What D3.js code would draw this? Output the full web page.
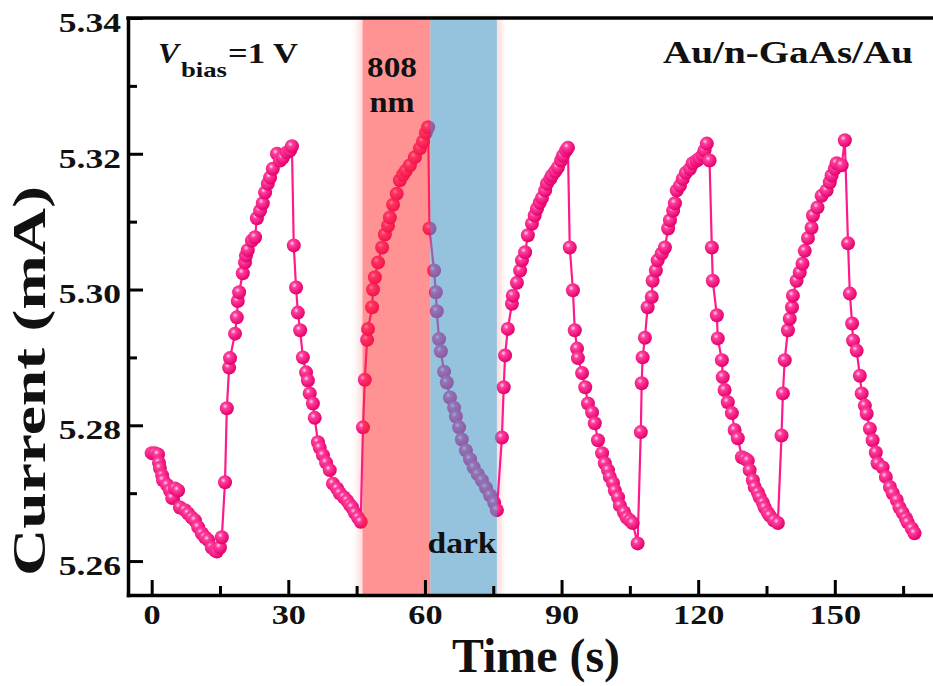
<!DOCTYPE html>
<html>
<head>
<meta charset="utf-8">
<script src="https://cdnjs.cloudflare.com/ajax/libs/d3/7.8.5/d3.min.js"></script>
<style>
body{margin:0;background:#fff;}
#canvas{width:933px;height:686px;}
text{font-family:"Times New Roman","Liberation Serif",Tinos,serif;font-weight:bold;fill:#111;}
</style>
</head>
<body>
<div id="canvas"></div>
<script>
// time (s), current (mA), one array per half cycle
var decay0 = [[0.0,5.2759],[0.7,5.2759],[1.4,5.2757],[1.6,5.2745],[1.8,5.2737],[2.3,5.2726],[2.5,5.2719],[3.4,5.2712],[4.0,5.2704],[4.5,5.2693],[5.1,5.2707],[5.8,5.2704],[6.2,5.2679],[7.3,5.2675],[8.0,5.2670],[8.8,5.2664],[9.5,5.2660],[10.2,5.2650],[11.0,5.2641],[11.7,5.2635],[12.4,5.2631],[13.2,5.2620],[13.9,5.2616],[14.3,5.2614],[15.0,5.2620],[15.4,5.2635]];
var rise1 = [[16.1,5.2716],[16.5,5.2825],[17.0,5.2885],[17.2,5.2899],[18.3,5.2935],[18.7,5.2959],[18.9,5.2983],[19.2,5.2996],[20.0,5.3024],[20.5,5.3040],[20.7,5.3050],[21.1,5.3058],[22.0,5.3072],[22.7,5.3077],[23.1,5.3105],[23.8,5.3116],[24.4,5.3127],[24.9,5.3143],[25.5,5.3156],[26.0,5.3165],[26.6,5.3178],[27.5,5.3200],[28.2,5.3190],[28.8,5.3194],[29.7,5.3202],[30.4,5.3205],[30.8,5.3211]];
var decay1 = [[31.2,5.3065],[31.7,5.3003],[32.1,5.2966],[32.6,5.2940],[33.2,5.2900],[33.9,5.2878],[34.3,5.2866],[34.7,5.2847],[35.4,5.2832],[35.8,5.2811],[36.5,5.2775],[36.9,5.2767],[37.6,5.2756],[38.3,5.2745],[39.1,5.2734],[39.8,5.2714],[40.7,5.2707],[41.3,5.2700],[42.2,5.2694],[42.9,5.2689],[43.5,5.2683],[44.0,5.2679],[44.6,5.2671],[45.3,5.2664],[45.9,5.2658]];
var rise2 = [[46.4,5.2797],[46.8,5.2867],[47.3,5.2926],[47.5,5.2942],[48.4,5.2974],[48.6,5.3000],[49.0,5.3018],[49.7,5.3040],[50.6,5.3062],[51.2,5.3081],[51.9,5.3094],[52.3,5.3106],[53.0,5.3125],[53.8,5.3141],[54.5,5.3161],[55.2,5.3169],[55.8,5.3175],[56.7,5.3183],[57.8,5.3195],[58.9,5.3208],[59.6,5.3218],[60.2,5.3231],[60.7,5.3239]];
var decay2 = [[61.0,5.3090],[62.0,5.3028],[62.4,5.2996],[62.6,5.2968],[63.1,5.2927],[63.5,5.2909],[64.2,5.2879],[64.8,5.2863],[65.5,5.2841],[66.4,5.2826],[66.8,5.2813],[67.5,5.2797],[68.1,5.2779],[69.0,5.2763],[69.9,5.2750],[70.7,5.2738],[71.6,5.2728],[72.5,5.2719],[73.4,5.2708],[74.3,5.2697],[75.2,5.2686],[75.8,5.2675]];
var rise3 = [[76.9,5.2782],[77.3,5.2856],[77.6,5.2903],[78.2,5.2942],[79.1,5.2979],[79.3,5.2991],[80.2,5.3010],[80.9,5.3028],[81.3,5.3043],[82.0,5.3055],[82.6,5.3080],[83.5,5.3097],[84.1,5.3109],[84.6,5.3119],[85.2,5.3128],[85.7,5.3135],[86.4,5.3146],[86.8,5.3156],[87.5,5.3163],[87.9,5.3168],[88.6,5.3174],[89.2,5.3180],[89.9,5.3190],[90.3,5.3197],[91.0,5.3205],[91.4,5.3209]];
var decay3 = [[91.8,5.3062],[92.5,5.2999],[92.9,5.2940],[93.4,5.2913],[93.6,5.2899],[94.5,5.2877],[95.2,5.2856],[95.8,5.2832],[96.7,5.2819],[97.3,5.2803],[98.0,5.2778],[98.9,5.2759],[99.5,5.2744],[100.2,5.2734],[100.6,5.2724],[101.3,5.2715],[101.7,5.2704],[102.4,5.2694],[102.8,5.2682],[103.7,5.2672],[104.3,5.2664],[105.0,5.2660],[105.6,5.2656],[106.7,5.2626]];
var rise4 = [[107.4,5.2790],[107.6,5.2862],[107.8,5.2900],[108.3,5.2929],[108.9,5.2974],[109.8,5.2989],[110.0,5.3013],[110.7,5.3028],[111.1,5.3043],[112.0,5.3053],[112.7,5.3062],[113.4,5.3090],[113.8,5.3102],[114.5,5.3116],[114.9,5.3127],[115.3,5.3146],[116.0,5.3153],[116.6,5.3163],[117.3,5.3172],[118.2,5.3178],[118.8,5.3186],[119.7,5.3190],[120.3,5.3193],[121.0,5.3198],[121.4,5.3205],[121.9,5.3215],[122.5,5.3190]];
var decay4 = [[123.0,5.3062],[123.2,5.3013],[124.1,5.2962],[124.3,5.2928],[125.2,5.2896],[125.4,5.2871],[125.8,5.2852],[126.5,5.2834],[127.4,5.2818],[128.0,5.2793],[128.7,5.2781],[129.6,5.2753],[130.2,5.2751],[130.9,5.2748],[131.3,5.2734],[132.0,5.2719],[132.4,5.2709],[133.1,5.2701],[133.5,5.2694],[134.2,5.2686],[134.6,5.2679],[135.3,5.2671],[135.7,5.2667],[136.6,5.2660],[137.5,5.2656]];
var rise5 = [[138.3,5.2785],[138.6,5.2847],[139.0,5.2896],[139.7,5.2940],[140.1,5.2957],[140.6,5.2974],[140.8,5.2991],[141.6,5.3013],[142.3,5.3025],[142.9,5.3038],[143.4,5.3057],[144.1,5.3076],[144.9,5.3091],[145.2,5.3109],[146.2,5.3121],[147.1,5.3138],[148.2,5.3146],[148.9,5.3158],[149.3,5.3168],[150.0,5.3178],[150.4,5.3186],[151.5,5.3183],[152.2,5.3220]];
var decay5 = [[152.9,5.3068],[153.3,5.2994],[153.8,5.2950],[154.0,5.2925],[154.8,5.2910],[155.5,5.2873],[155.9,5.2847],[156.6,5.2829],[157.0,5.2817],[157.7,5.2795],[158.3,5.2778],[159.0,5.2760],[159.4,5.2744],[160.5,5.2738],[161.2,5.2724],[162.1,5.2709],[162.7,5.2700],[163.6,5.2690],[164.2,5.2679],[164.9,5.2671],[165.6,5.2663],[166.0,5.2657],[166.9,5.2648],[167.5,5.2641]];

var lightBand = [46.3, 61.2];   // 808 nm on
var darkBand = [61.2, 75.8];    // dark
var xTicks = [0, 30, 60, 90, 120, 150];
var xMinor = [15, 45, 75, 105, 135, 165];
var yTicks = [5.26, 5.28, 5.30, 5.32, 5.34];
var yMinor = [5.27, 5.29, 5.31, 5.33];

var series = [].concat(decay0, rise1, decay1, rise2, decay2, rise3, decay3, rise4, decay4, rise5, decay5);

var W = 933, H = 686;
var x = d3.scaleLinear().domain([-5.2, 172]).range([128, 935]);
var y = d3.scaleLinear().domain([5.255, 5.34]).range([595, 18]);

var svg = d3.select('#canvas').append('svg')
    .attr('width', W)
    .attr('height', H);

var defs = svg.append('defs');
var grad = defs.append('radialGradient').attr('id', 'bead')
    .attr('cx', '38%').attr('cy', '35%').attr('r', '65%');
grad.append('stop').attr('offset', '0%').attr('stop-color', '#ffd6ea');
grad.append('stop').attr('offset', '28%').attr('stop-color', '#ff3d9c');
grad.append('stop').attr('offset', '100%').attr('stop-color', '#e4006c');
defs.append('filter').attr('id', 'soft').attr('x', '-20%').attr('width', '140%')
    .append('feGaussianBlur').attr('stdDeviation', 3);

var bandTop = y(5.34), bandH = y(5.255) - y(5.34);

//pink glow round the shaded bands, cleared inside so the band colours stay clean
svg.append('rect')
    .attr('x', x(lightBand[0]) - 4)
    .attr('y', bandTop)
    .attr('width', x(darkBand[1]) - x(lightBand[0]) + 8)
    .attr('height', bandH)
    .style('fill', '#ffc4c4')
    .style('opacity', 0.7)
    .attr('filter', 'url(#soft)');
svg.append('rect')
    .attr('x', x(lightBand[0]))
    .attr('y', bandTop)
    .attr('width', x(darkBand[1]) - x(lightBand[0]))
    .attr('height', bandH)
    .style('fill', '#fff');

//line + beads
var line = d3.line().x(function(d){ return x(d[0]); }).y(function(d){ return y(d[1]); });
svg.append('path').attr('d', line(series))
    .style('fill', 'none')
    .style('stroke', '#ff1a8c')
    .style('stroke-width', '2.2px');

svg.selectAll('circle.pt').data(series).enter().append('circle')
    .attr('class', 'pt')
    .attr('cx', function(d){ return x(d[0]); })
    .attr('cy', function(d){ return y(d[1]); })
    .attr('r', 7)
    .style('fill', 'url(#bead)');

//bands drawn on top, semi transparent
svg.append('rect')
    .attr('x', x(lightBand[0]))
    .attr('y', bandTop)
    .attr('width', x(lightBand[1]) - x(lightBand[0]))
    .attr('height', bandH)
    .style('fill', 'rgb(255,40,40)')
    .style('fill-opacity', 0.5);
svg.append('rect')
    .attr('x', x(darkBand[0]))
    .attr('y', bandTop)
    .attr('width', x(darkBand[1]) - x(darkBand[0]))
    .attr('height', bandH)
    .style('fill', 'rgb(74,153,199)')
    .style('fill-opacity', 0.59);

//axes
function styleAxis(g, size){
    g.selectAll('.domain').style('stroke', '#000').style('stroke-width', '3.5px').style('stroke-linecap', 'square');
    g.selectAll('.tick line').style('stroke', '#000').style('stroke-width', '3px');
    g.attr('font-size', size);
    g.selectAll('text').each(function(){
        var w = this.getComputedTextLength();
        d3.select(this).attr('textLength', w * 1.27).attr('lengthAdjust', 'spacingAndGlyphs');
    });
}

var gy = svg.append('g').attr('transform', 'translate(' + x(-5.2) + ',0)')
    .call(d3.axisLeft(y).tickValues(yTicks).tickSize(-15).tickSizeOuter(0).tickPadding(7).tickFormat(d3.format('.2f')));
gy.selectAll('text').attr('dy', '0.48em');
styleAxis(gy, 28);

var gyMinor = svg.append('g').attr('transform', 'translate(' + x(-5.2) + ',0)')
    .call(d3.axisLeft(y).tickValues(yMinor).tickSize(-9).tickFormat(''));
gyMinor.select('.domain').remove();
styleAxis(gyMinor, 28);

var gx = svg.append('g').attr('transform', 'translate(0,' + y(5.255) + ')')
    .call(d3.axisBottom(x).tickValues(xTicks).tickSize(-15).tickSizeOuter(0).tickPadding(10));
styleAxis(gx, 27);

var gxMinor = svg.append('g').attr('transform', 'translate(0,' + y(5.255) + ')')
    .call(d3.axisBottom(x).tickValues(xMinor).tickSize(-9).tickFormat(''));
gxMinor.select('.domain').remove();
styleAxis(gxMinor, 27);

//top frame line
svg.append('line')
    .attr('x1', x(-5.2)).attr('x2', W)
    .attr('y1', y(5.34)).attr('y2', y(5.34))
    .style('stroke', '#000').style('stroke-width', '3.5px').style('stroke-linecap', 'square');

//titles and labels
function label(txt, px, py, size, len, anchor){
    return svg.append('text')
        .attr('x', px).attr('y', py)
        .attr('font-size', size)
        .attr('text-anchor', anchor || 'start')
        .attr('textLength', len)
        .attr('lengthAdjust', 'spacingAndGlyphs')
        .text(txt);
}

label('Time (s)', 536, 672, 48, 168, 'middle');
svg.append('text')
    .attr('transform', 'translate(45,381) rotate(-90)')
    .attr('font-size', 46)
    .attr('text-anchor', 'middle')
    .attr('textLength', 390)
    .attr('lengthAdjust', 'spacingAndGlyphs')
    .text('Current (mA)');

label('V', 158, 63, 30, 21).style('font-style', 'italic');
label('bias', 181, 77, 22, 46);
label('=1 V', 228, 63, 30, 70);
label('Au/n-GaAs/Au', 663, 63, 31, 250);
label('808', 392, 77, 29, 50, 'middle');
label('nm', 392, 112, 29, 45, 'middle');
label('dark', 462, 553, 30, 69, 'middle');
</script>
</body>
</html>
